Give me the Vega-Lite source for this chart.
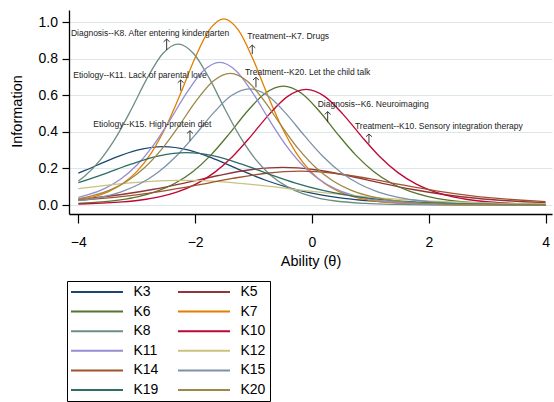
{
  "$schema": "https://vega.github.io/schema/vega-lite/v6.json",
  "width": 483,
  "height": 204,
  "autosize": {"type": "none"},
  "padding": {"left": 69, "top": 10, "right": 2, "bottom": 188},
  "background": "white",
  "config": {
    "font": "Liberation Sans",
    "view": {"stroke": null},
    "axis": {"labelColor": "black", "titleColor": "black", "domainColor": "black", "tickColor": "black", "labelFont": "Liberation Sans", "titleFont": "Liberation Sans", "titleFontWeight": "normal"}
  },
  "datasets": {
    "curves": [
      {"item":"K3","theta":-4,"info":0.174},{"item":"K3","theta":-3.877,"info":0.1904},{"item":"K3","theta":-3.435,"info":0.2511},{"item":"K3","theta":-2.992,"info":0.3001},{"item":"K3","theta":-2.55,"info":0.3193},{"item":"K3","theta":-2.108,"info":0.3001},{"item":"K3","theta":-1.665,"info":0.2511},{"item":"K3","theta":-1.223,"info":0.1904},{"item":"K3","theta":-0.78,"info":0.1341},{"item":"K3","theta":-0.338,"info":0.0895},{"item":"K3","theta":0.105,"info":0.0577},{"item":"K3","theta":0.548,"info":0.0364},{"item":"K3","theta":0.99,"info":0.0226},{"item":"K3","theta":1.875,"info":0.0085},{"item":"K3","theta":2.76,"info":0.0032},{"item":"K3","theta":3.645,"info":0.0012},{"item":"K3","theta":4,"info":0.0008},
      {"item":"K5","theta":-4,"info":0.0318},{"item":"K5","theta":-3.811,"info":0.0371},{"item":"K5","theta":-3.259,"info":0.0576},{"item":"K5","theta":-2.707,"info":0.0862},{"item":"K5","theta":-2.155,"info":0.1224},{"item":"K5","theta":-1.604,"info":0.1614},{"item":"K5","theta":-1.052,"info":0.1929},{"item":"K5","theta":-0.5,"info":0.2053},{"item":"K5","theta":0.052,"info":0.1929},{"item":"K5","theta":0.604,"info":0.1614},{"item":"K5","theta":1.155,"info":0.1224},{"item":"K5","theta":1.707,"info":0.0862},{"item":"K5","theta":2.259,"info":0.0576},{"item":"K5","theta":2.811,"info":0.0371},{"item":"K5","theta":3.363,"info":0.0234},{"item":"K5","theta":3.914,"info":0.0145},{"item":"K5","theta":4,"info":0.0135},
      {"item":"K6","theta":-4,"info":0.009},{"item":"K6","theta":-3.592,"info":0.0173},{"item":"K6","theta":-3.282,"info":0.0283},{"item":"K6","theta":-2.971,"info":0.046},{"item":"K6","theta":-2.661,"info":0.0741},{"item":"K6","theta":-2.351,"info":0.1175},{"item":"K6","theta":-2.041,"info":0.1823},{"item":"K6","theta":-1.731,"info":0.273},{"item":"K6","theta":-1.42,"info":0.3877},{"item":"K6","theta":-1.11,"info":0.5112},{"item":"K6","theta":-0.8,"info":0.611},{"item":"K6","theta":-0.49,"info":0.65},{"item":"K6","theta":-0.18,"info":0.611},{"item":"K6","theta":0.13,"info":0.5112},{"item":"K6","theta":0.44,"info":0.3877},{"item":"K6","theta":0.751,"info":0.273},{"item":"K6","theta":1.061,"info":0.1823},{"item":"K6","theta":1.371,"info":0.1175},{"item":"K6","theta":1.681,"info":0.0741},{"item":"K6","theta":1.991,"info":0.046},{"item":"K6","theta":2.301,"info":0.0283},{"item":"K6","theta":2.612,"info":0.0173},{"item":"K6","theta":3.232,"info":0.0064},{"item":"K6","theta":3.852,"info":0.0024},{"item":"K6","theta":4,"info":0.0019},
      {"item":"K7","theta":-4,"info":0.0264},{"item":"K7","theta":-3.74,"info":0.0443},{"item":"K7","theta":-3.492,"info":0.0721},{"item":"K7","theta":-3.244,"info":0.1161},{"item":"K7","theta":-2.997,"info":0.1841},{"item":"K7","theta":-2.749,"info":0.2855},{"item":"K7","theta":-2.501,"info":0.4276},{"item":"K7","theta":-2.253,"info":0.6071},{"item":"K7","theta":-2.006,"info":0.8006},{"item":"K7","theta":-1.758,"info":0.9569},{"item":"K7","theta":-1.51,"info":1.018},{"item":"K7","theta":-1.262,"info":0.9569},{"item":"K7","theta":-1.014,"info":0.8006},{"item":"K7","theta":-0.767,"info":0.6071},{"item":"K7","theta":-0.519,"info":0.4276},{"item":"K7","theta":-0.271,"info":0.2855},{"item":"K7","theta":-0.023,"info":0.1841},{"item":"K7","theta":0.224,"info":0.1161},{"item":"K7","theta":0.472,"info":0.0721},{"item":"K7","theta":0.72,"info":0.0443},{"item":"K7","theta":0.968,"info":0.0271},{"item":"K7","theta":1.463,"info":0.0101},{"item":"K7","theta":1.959,"info":0.0037},{"item":"K7","theta":2.454,"info":0.0014},{"item":"K7","theta":3.445,"info":0.0002},{"item":"K7","theta":4,"info":0.0001},
      {"item":"K8","theta":-4,"info":0.1315},{"item":"K8","theta":-3.889,"info":0.159},{"item":"K8","theta":-3.623,"info":0.2468},{"item":"K8","theta":-3.356,"info":0.3696},{"item":"K8","theta":-3.09,"info":0.525},{"item":"K8","theta":-2.823,"info":0.6921},{"item":"K8","theta":-2.557,"info":0.8272},{"item":"K8","theta":-2.29,"info":0.88},{"item":"K8","theta":-2.024,"info":0.8272},{"item":"K8","theta":-1.757,"info":0.6921},{"item":"K8","theta":-1.491,"info":0.525},{"item":"K8","theta":-1.224,"info":0.3696},{"item":"K8","theta":-0.958,"info":0.2468},{"item":"K8","theta":-0.691,"info":0.159},{"item":"K8","theta":-0.425,"info":0.1003},{"item":"K8","theta":-0.158,"info":0.0622},{"item":"K8","theta":0.109,"info":0.0383},{"item":"K8","theta":0.375,"info":0.0234},{"item":"K8","theta":0.908,"info":0.0087},{"item":"K8","theta":1.441,"info":0.0032},{"item":"K8","theta":1.974,"info":0.0012},{"item":"K8","theta":3.04,"info":0.0002},{"item":"K8","theta":4,"info":0.0},
      {"item":"K10","theta":-4,"info":0.0051},{"item":"K10","theta":-3.874,"info":0.0062},{"item":"K10","theta":-3.245,"info":0.0168},{"item":"K10","theta":-2.93,"info":0.0275},{"item":"K10","theta":-2.616,"info":0.0447},{"item":"K10","theta":-2.302,"info":0.072},{"item":"K10","theta":-1.987,"info":0.1142},{"item":"K10","theta":-1.673,"info":0.1772},{"item":"K10","theta":-1.358,"info":0.2654},{"item":"K10","theta":-1.044,"info":0.377},{"item":"K10","theta":-0.729,"info":0.497},{"item":"K10","theta":-0.415,"info":0.5941},{"item":"K10","theta":-0.1,"info":0.632},{"item":"K10","theta":0.215,"info":0.5941},{"item":"K10","theta":0.529,"info":0.497},{"item":"K10","theta":0.844,"info":0.377},{"item":"K10","theta":1.158,"info":0.2654},{"item":"K10","theta":1.473,"info":0.1772},{"item":"K10","theta":1.787,"info":0.1142},{"item":"K10","theta":2.102,"info":0.072},{"item":"K10","theta":2.416,"info":0.0447},{"item":"K10","theta":2.73,"info":0.0275},{"item":"K10","theta":3.045,"info":0.0168},{"item":"K10","theta":3.674,"info":0.0062},{"item":"K10","theta":4,"info":0.0037},
      {"item":"K11","theta":-4,"info":0.0423},{"item":"K11","theta":-3.845,"info":0.0551},{"item":"K11","theta":-3.562,"info":0.0888},{"item":"K11","theta":-3.279,"info":0.1409},{"item":"K11","theta":-2.996,"info":0.2187},{"item":"K11","theta":-2.713,"info":0.3275},{"item":"K11","theta":-2.429,"info":0.4652},{"item":"K11","theta":-2.146,"info":0.6132},{"item":"K11","theta":-1.863,"info":0.733},{"item":"K11","theta":-1.58,"info":0.7798},{"item":"K11","theta":-1.297,"info":0.733},{"item":"K11","theta":-1.014,"info":0.6132},{"item":"K11","theta":-0.731,"info":0.4652},{"item":"K11","theta":-0.447,"info":0.3275},{"item":"K11","theta":-0.164,"info":0.2187},{"item":"K11","theta":0.119,"info":0.1409},{"item":"K11","theta":0.402,"info":0.0888},{"item":"K11","theta":0.685,"info":0.0551},{"item":"K11","theta":0.968,"info":0.0339},{"item":"K11","theta":1.252,"info":0.0207},{"item":"K11","theta":1.818,"info":0.0077},{"item":"K11","theta":2.384,"info":0.0028},{"item":"K11","theta":2.95,"info":0.001},{"item":"K11","theta":4,"info":0.0002},
      {"item":"K12","theta":-4,"info":0.0897},{"item":"K12","theta":-3.561,"info":0.1062},{"item":"K12","theta":-2.88,"info":0.1269},{"item":"K12","theta":-2.2,"info":0.135},{"item":"K12","theta":-1.52,"info":0.1269},{"item":"K12","theta":-0.84,"info":0.1062},{"item":"K12","theta":-0.159,"info":0.0805},{"item":"K12","theta":0.521,"info":0.0567},{"item":"K12","theta":1.201,"info":0.0379},{"item":"K12","theta":1.882,"info":0.0244},{"item":"K12","theta":2.562,"info":0.0154},{"item":"K12","theta":3.242,"info":0.0095},{"item":"K12","theta":3.922,"info":0.0059},{"item":"K12","theta":4,"info":0.0056},
      {"item":"K14","theta":-4,"info":0.0261},{"item":"K14","theta":-3.688,"info":0.0334},{"item":"K14","theta":-3.107,"info":0.0518},{"item":"K14","theta":-2.526,"info":0.0777},{"item":"K14","theta":-1.944,"info":0.1103},{"item":"K14","theta":-1.363,"info":0.1454},{"item":"K14","theta":-0.781,"info":0.1738},{"item":"K14","theta":-0.2,"info":0.1849},{"item":"K14","theta":0.381,"info":0.1738},{"item":"K14","theta":0.963,"info":0.1454},{"item":"K14","theta":1.544,"info":0.1103},{"item":"K14","theta":2.126,"info":0.0777},{"item":"K14","theta":2.707,"info":0.0518},{"item":"K14","theta":3.288,"info":0.0334},{"item":"K14","theta":3.87,"info":0.021},{"item":"K14","theta":4,"info":0.0189},
      {"item":"K15","theta":-4,"info":0.0236},{"item":"K15","theta":-3.893,"info":0.0276},{"item":"K15","theta":-3.579,"info":0.0449},{"item":"K15","theta":-3.266,"info":0.0723},{"item":"K15","theta":-2.952,"info":0.1148},{"item":"K15","theta":-2.639,"info":0.1781},{"item":"K15","theta":-2.325,"info":0.2668},{"item":"K15","theta":-2.011,"info":0.379},{"item":"K15","theta":-1.697,"info":0.4996},{"item":"K15","theta":-1.384,"info":0.5971},{"item":"K15","theta":-1.07,"info":0.6353},{"item":"K15","theta":-0.756,"info":0.5971},{"item":"K15","theta":-0.443,"info":0.4996},{"item":"K15","theta":-0.129,"info":0.379},{"item":"K15","theta":0.185,"info":0.2668},{"item":"K15","theta":0.499,"info":0.1781},{"item":"K15","theta":0.812,"info":0.1148},{"item":"K15","theta":1.126,"info":0.0723},{"item":"K15","theta":1.44,"info":0.0449},{"item":"K15","theta":1.753,"info":0.0276},{"item":"K15","theta":2.067,"info":0.0169},{"item":"K15","theta":2.694,"info":0.0063},{"item":"K15","theta":3.322,"info":0.0023},{"item":"K15","theta":3.949,"info":0.0009},{"item":"K15","theta":4,"info":0.0008},
      {"item":"K19","theta":-4,"info":0.122},{"item":"K19","theta":-3.552,"info":0.1708},{"item":"K19","theta":-3.085,"info":0.2251},{"item":"K19","theta":-2.617,"info":0.2691},{"item":"K19","theta":-2.15,"info":0.2863},{"item":"K19","theta":-1.683,"info":0.2691},{"item":"K19","theta":-1.215,"info":0.2251},{"item":"K19","theta":-0.748,"info":0.1708},{"item":"K19","theta":-0.281,"info":0.1202},{"item":"K19","theta":0.187,"info":0.0803},{"item":"K19","theta":0.654,"info":0.0517},{"item":"K19","theta":1.121,"info":0.0326},{"item":"K19","theta":1.588,"info":0.0202},{"item":"K19","theta":2.523,"info":0.0076},{"item":"K19","theta":3.458,"info":0.0028},{"item":"K19","theta":4,"info":0.0016},
      {"item":"K20","theta":-4,"info":0.0341},{"item":"K20","theta":-3.757,"info":0.0509},{"item":"K20","theta":-3.463,"info":0.082},{"item":"K20","theta":-3.168,"info":0.1301},{"item":"K20","theta":-2.873,"info":0.2019},{"item":"K20","theta":-2.579,"info":0.3024},{"item":"K20","theta":-2.284,"info":0.4296},{"item":"K20","theta":-1.989,"info":0.5662},{"item":"K20","theta":-1.695,"info":0.6768},{"item":"K20","theta":-1.4,"info":0.72},{"item":"K20","theta":-1.105,"info":0.6768},{"item":"K20","theta":-0.811,"info":0.5662},{"item":"K20","theta":-0.516,"info":0.4296},{"item":"K20","theta":-0.221,"info":0.3024},{"item":"K20","theta":0.073,"info":0.2019},{"item":"K20","theta":0.368,"info":0.1301},{"item":"K20","theta":0.663,"info":0.082},{"item":"K20","theta":0.957,"info":0.0509},{"item":"K20","theta":1.252,"info":0.0313},{"item":"K20","theta":1.546,"info":0.0192},{"item":"K20","theta":2.136,"info":0.0071},{"item":"K20","theta":2.725,"info":0.0026},{"item":"K20","theta":3.314,"info":0.001},{"item":"K20","theta":4,"info":0.0003}
    ],
    "notes": [
      {"label":"Diagnosis--K8. After entering kindergarten","tx":-4.127,"ty":0.9415,"ax":-2.488,"atop":0.907,"abot":0.847},
      {"label":"Treatment--K7. Drugs","tx":-1.108,"ty":0.925,"ax":-1.022,"atop":0.874,"abot":0.825},
      {"label":"Etiology--K11. Lack of parental love","tx":-4.087,"ty":0.71,"ax":-2.248,"atop":0.683,"abot":0.625},
      {"label":"Treatment--K20. Let the child talk","tx":-1.147,"ty":0.725,"ax":-0.959,"atop":0.698,"abot":0.643},
      {"label":"Diagnosis--K6. Neuroimaging","tx":0.098,"ty":0.55,"ax":0.269,"atop":0.51,"abot":0.455},
      {"label":"Treatment--K10. Sensory integration therapy","tx":0.736,"ty":0.432,"ax":0.976,"atop":0.388,"abot":0.337},
      {"label":"Etiology--K15. High-protein diet","tx":-3.745,"ty":0.441,"ax":-2.089,"atop":0.406,"abot":0.351}
    ]
  },
  "layer": [
    {
      "data": {"name": "curves"},
      "mark": {"type": "line", "strokeWidth": 1.3, "interpolate": "monotone"},
      "encoding": {
        "x": {"field": "theta", "type": "quantitative",
              "scale": {"domain": [-4.16, 4.11], "nice": false, "zero": false},
              "axis": {"title": "Ability (θ)", "values": [-4, -2, 0, 2, 4], "format": "d", "grid": false, "tickSize": 9, "tickWidth": 1.2, "domainWidth": 1.3, "labelFontSize": 14, "labelBaseline": "middle", "labelPadding": 19, "titleFontSize": 14.5, "titleBaseline": "middle", "titleY": 47}},
        "y": {"field": "info", "type": "quantitative",
              "scale": {"domain": [-0.049, 1.066], "nice": false, "zero": false},
              "axis": {"title": "Information", "values": [0, 0.2, 0.4, 0.6, 0.8, 1.0], "format": ".1f", "grid": true, "gridColor": "#dde7ea", "gridWidth": 1, "tickSize": 7, "tickWidth": 1.2, "domainWidth": 1.3, "labelFontSize": 14, "labelPadding": 4.5, "titleFontSize": 14.5, "titleAngle": -90, "titleAlign": "center", "titleBaseline": "middle", "titleX": -52, "titleY": 101}},
        "color": {"field": "item", "type": "nominal",
                  "scale": {"domain": ["K3","K5","K6","K7","K8","K10","K11","K12","K14","K15","K19","K20"],
                            "range": ["#1a476f","#90353b","#55752f","#e37e00","#6e8e84","#c10534","#938dd2","#cac27e","#a0522d","#7b92a8","#2d6d66","#9c8847"]},
                  "legend": {"title": null, "orient": "none", "direction": "horizontal", "legendX": -2, "legendY": 271, "columns": 2,
                             "symbolType": "M-5.2,0H5.2", "symbolSize": 100, "symbolStrokeWidth": 2, "symbolOffset": 19,
                             "labelOffset": 29.5, "labelFontSize": 14, "labelFont": "Liberation Sans", "labelColor": "black",
                             "columnPadding": 15, "rowPadding": 5.6, "padding": 4, "strokeColor": "black"}}
      }
    },
    {
      "data": {"name": "notes"},
      "mark": {"type": "text", "align": "left", "baseline": "middle", "fontSize": 8.5, "font": "Liberation Sans", "color": "#222222"},
      "encoding": {
        "x": {"field": "tx", "type": "quantitative", "title": "Ability (θ)"},
        "y": {"field": "ty", "type": "quantitative", "title": "Information"},
        "text": {"field": "label"}
      }
    },
    {
      "data": {"name": "notes"},
      "mark": {"type": "rule", "color": "#222222", "strokeWidth": 0.9},
      "encoding": {
        "x": {"field": "ax", "type": "quantitative", "title": "Ability (θ)"},
        "y": {"field": "abot", "type": "quantitative", "title": "Information"},
        "y2": {"field": "atop"}
      }
    },
    {
      "data": {"name": "notes"},
      "mark": {"type": "point", "shape": "M-1,0.9L0,0L1,0.9", "filled": false, "size": 36, "color": "#222222", "strokeWidth": 0.9, "opacity": 1},
      "encoding": {
        "x": {"field": "ax", "type": "quantitative", "title": "Ability (θ)"},
        "y": {"field": "atop", "type": "quantitative", "title": "Information"}
      }
    }
  ]
}
